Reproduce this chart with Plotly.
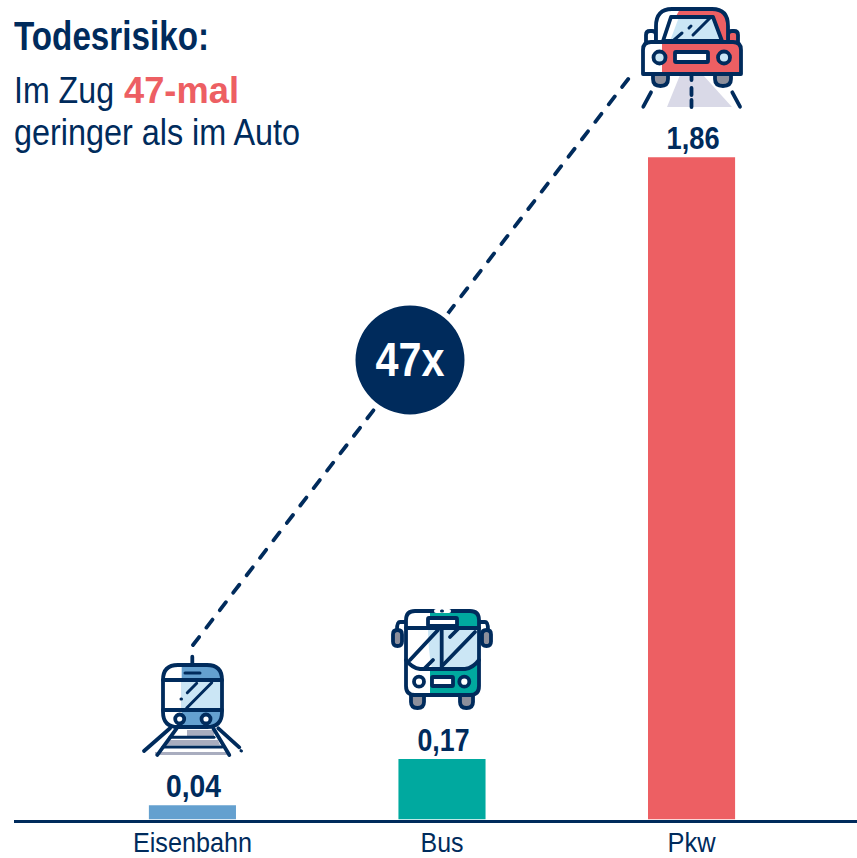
import re
import json
import plotly.graph_objects as go

categories = ["Eisenbahn", "Bus", "Pkw"]
values = [0.04, 0.17, 1.86]
bar_colors = ["#64A0CF", "#00A99F", "#ED5F63"]

NAVY = "#002B5C"
RED = "#ED5F63"
TEAL = "#00A99F"
BLUE = "#64A0CF"
PALE = "#CBE6F5"
GRAY = "#8D8F9B"
LILAC = "#D9D9E7"
FONT = "Liberation Sans, Arial, sans-serif"
W, H = 857, 858
LW = 3.8

# narrow-set text: rendered width in px for each label
text_widths = {"Todesrisiko:": 195, "Im Zug": 100, "47-mal": 115, "geringer als im Auto": 286,
               "47x": 69, "Eisenbahn": 119, "Bus": 43, "Pkw": 48,
               "0,04": 55, "0,17": 52, "1,86": 53}
value_labels = ["0,04", "0,17", "1,86"]


def fx(x):
    return x / W


def fy(y):
    return 1 - y / H


def conv(path):
    toks = re.findall(r"[MLQCZ]|-?\d+\.?\d*", path)
    out, is_x = [], True
    for t in toks:
        if t in "MLQCZ":
            out.append(t)
            is_x = True
        else:
            out.append(f"{fx(float(t)):.5f}" if is_x else f"{fy(float(t)):.5f}")
            is_x = not is_x
    res = ""
    for t in out:
        res += t if t in "MLQCZ" else t + " "
    return res


shapes = []


def path(d, fill=None, line=NAVY, w=LW):
    s = dict(type="path", xref="paper", yref="paper", path=conv(d), layer="above")
    s["fillcolor"] = fill if fill else "rgba(0,0,0,0)"
    s["line"] = dict(color=line if line else "rgba(0,0,0,0)", width=w if line else 0)
    shapes.append(s)


def rr(x0, y0, x1, y1, r):
    return (f"M {x0+r} {y0} L {x1-r} {y0} Q {x1} {y0} {x1} {y0+r} L {x1} {y1-r} Q {x1} {y1} {x1-r} {y1} "
            f"L {x0+r} {y1} Q {x0} {y1} {x0} {y1-r} L {x0} {y0+r} Q {x0} {y0} {x0+r} {y0} Z")


def circ(cx, cy, r, fill=None, line=NAVY, w=LW):
    shapes.append(dict(type="circle", xref="paper", yref="paper", layer="above",
                       x0=fx(cx - r), x1=fx(cx + r), y0=fy(cy + r), y1=fy(cy - r),
                       fillcolor=fill if fill else "rgba(0,0,0,0)",
                       line=dict(color=line if line else "rgba(0,0,0,0)", width=w if line else 0)))


# Dashed connector
shapes.append(dict(type="line", xref="paper", yref="paper", layer="above",
                   x0=fx(193), y0=fy(645), x1=fx(629), y1=fy(78),
                   line=dict(color=NAVY, width=3.8, dash="10px,12px")))
circ(410, 360, 60, fill="#FFFFFF", line=None)
circ(410, 360, 54.5, fill=NAVY, line=None)

# ---- Car ----
path("M 680 75 L 703 75 L 732 107 L 667 107 Z", fill=LILAC, line=None)
path("M 653 74 L 668 74 L 668 79 Q 668 86 660.5 86 Q 653 86 653 79 Z", fill=GRAY)
path("M 715 74 L 731 74 L 731 79 Q 731 86 723 86 Q 715 86 715 79 Z", fill=GRAY)
path(rr(646, 31, 656, 46, 4), fill="#FFFFFF")
path(rr(728, 31, 738, 46, 4), fill=RED)
path("M 656 42 L 656 26 Q 656 9 672 9 L 712 9 Q 728 9 728 26 L 728 42 Z", fill="#FFFFFF", line=None)
path("M 680 9 L 712 9 Q 728 9 728 26 L 728 42 L 662 42 Z", fill=RED, line=None)
path("M 663 41 L 671 17 L 713 17 L 722 41 Z", fill="#FFFFFF", line=None)
path("M 679 17 L 713 17 L 722 41 L 670 41 Z", fill=PALE, line=None)
path("M 656 42 L 656 26 Q 656 9 672 9 L 712 9 Q 728 9 728 26 L 728 42")
path("M 663 41 L 671 17 L 713 17 L 722 41 Z")
path("M 674 40 L 682 33", w=3)
path("M 689 28 L 691 26", w=3)
path("M 693 35 L 711 17", w=3)
path("M 643 50 Q 643 42 651 42 L 733 42 Q 741 42 741 50 L 741 74 L 643 74 Z", fill="#FFFFFF", line=None)
path("M 662 42 L 733 42 Q 741 42 741 50 L 741 74 L 662 74 Z", fill=RED, line=None)
path("M 643 50 Q 643 42 651 42 L 733 42 Q 741 42 741 50 L 741 74 L 643 74 Z")
circ(659.5, 57.5, 6, fill=PALE)
circ(724, 57.5, 6, fill=PALE)
path(rr(675, 52, 708, 62, 1), fill="#FFFFFF")
path("M 691.5 75 L 691.5 80")
path("M 691.5 88 L 691.5 95")
path("M 691.5 100 L 691.5 107")
path("M 643.3 106.7 L 651 92.3")
path("M 732.3 92.3 L 740 106.7")

# ---- Bus ----
path("M 411 695 L 424 695 L 424 702 Q 424 708 417.5 708 Q 411 708 411 702 Z", fill=GRAY)
path("M 460 695 L 473 695 L 473 702 Q 473 708 466.5 708 Q 460 708 460 702 Z", fill=GRAY)
path("M 406 622 L 400 622 Q 397 622 397 630")
path("M 479 622 L 485 622 Q 488 622 488 630")
path(rr(393, 630, 402, 646, 4.5), fill=GRAY)
path(rr(482, 630, 491, 646, 4.5), fill=GRAY)
path(rr(406, 611, 479, 695, 9), fill="#FFFFFF", line=None)
path("M 430 611 L 470 611 Q 479 611 479 620 L 479 686 Q 479 695 470 695 L 430 695 Z", fill=TEAL, line=None)
path("M 406 628 L 479 628 L 479 660 Q 473 668 465 669 L 420 669 Q 412 668 406 660 Z", fill="#FFFFFF", line=None)
path("M 428 628 L 479 628 L 479 660 Q 473 668 465 669 L 432 669 Q 428 650 428 628 Z", fill=PALE, line=None)
path(rr(406, 611, 479, 695, 9))
path("M 406 628 L 479 628")
path("M 406 660 Q 412 668 420 669 L 465 669 Q 473 668 479 660")
path("M 441.7 628 L 441.7 669")
path("M 410 660 L 438 630")
path("M 425 668 L 433 660")
path("M 443 665 L 475 632")
path("M 450 637 L 458 629")
path(rr(428, 618, 457, 626, 1), fill="#FFFFFF")
path("M 436 611 L 449 611", line="#FFFFFF", w=4)
path("M 441.5 611 L 442.5 611", w=3)
circ(419, 681.7, 5, fill="#FFFFFF")
circ(464.3, 681.7, 5, fill="#FFFFFF")
path(rr(432, 677, 453, 686, 1), fill="#FFFFFF")

# ---- Train ----
path("M 170 730 L 214 730 L 214 735 L 170 735 Z", fill="#FFFFFF", line=None)
path("M 187 730 L 214 730 L 214 736 L 187 736 Z", fill="#A9ADBF", line=None)
path("M 167 740 L 218 740 L 220 745 L 165 745 Z", fill="#A9ADBF", line=None)
path("M 155 752 L 228 752 L 228 755 L 155 755 Z", fill="#A9ADBF", line=None)
path("M 170 737.3 L 214 737.3", w=3)
path("M 163 747 L 222 747", w=3)
path("M 144 751 L 170 728.3")
path("M 157.3 755 L 176.7 728.3")
path("M 213.3 728.3 L 229.3 755")
path("M 218.3 728.3 L 239.3 747.3")
path("M 241 750.7 L 241.5 751", w=3)
path("M 192.3 656.7 L 192.3 665")
path(rr(163, 665, 222, 727, 15), fill="#FFFFFF", line=None)
path("M 181.7 665 L 207 665 Q 222 665 222 680 L 222 712 Q 222 727 207 727 L 181.7 727 Z", fill=BLUE, line=None)
path("M 181.7 680 L 222 680 L 222 710 L 181.7 710 Z", fill=PALE, line=None)
path(rr(163, 665, 222, 727, 15))
path("M 163 680 L 222 680")
path("M 163 710 L 222 710")
path("M 185 673 L 200 673", w=3)
path("M 187.3 692.7 L 196.7 683.3", w=3)
path("M 186.7 708 L 211.7 682.7", w=3)
path("M 181 699 L 181.5 699", w=3)
circ(179.7, 719, 4.5, fill="#FFFFFF")
circ(206, 719, 4.5, fill="#FFFFFF")

fig = go.Figure(go.Bar(
    x=categories, y=values, width=0.349, marker=dict(color=bar_colors, line_width=0),
    text=values, texttemplate="%{y:.2f}", textposition="outside", cliponaxis=False,
    textfont=dict(family=FONT, size=31, color=NAVY, weight="bold"), hoverinfo="skip",
))

ann = [
    dict(text="Todesrisiko:", x=11.5, y=36, size=41, color=NAVY, weight="bold"),
    dict(text="Im Zug", x=11.5, y=90, size=37, color=NAVY, weight="normal"),
    dict(text="47-mal", x=121.5, y=90, size=37, color=RED, weight="bold"),
    dict(text="geringer als im Auto", x=11.5, y=132, size=37, color=NAVY, weight="normal"),
]
annotations = [dict(text=a["text"], x=fx(a["x"]), y=fy(a["y"]), xref="paper", yref="paper",
                    xanchor="left", yanchor="middle", showarrow=False, xshift=0,
                    width=text_widths[a["text"]], align="left",
                    font=dict(family=FONT, size=a["size"], color=a["color"], weight=a["weight"]))
               for a in ann]
annotations.append(dict(text="47x", x=fx(410), y=fy(359), xref="paper", yref="paper",
                        showarrow=False,
                        font=dict(family=FONT, size=48, color="#FFFFFF", weight="bold")))

fig.update_layout(
    width=W, height=H, margin=dict(l=0, r=0, t=0, b=0), autosize=False,
    paper_bgcolor="#FFFFFF", plot_bgcolor="#FFFFFF", showlegend=False,
    separators=",.", shapes=shapes, annotations=annotations,
    xaxis=dict(domain=[14 / W, 1], type="category", range=[-0.715, 2.663], showgrid=False,
               showline=True, linecolor=NAVY, linewidth=2.5, ticks="", fixedrange=True,
               automargin=False, ticklabelstandoff=-3,
               tickfont=dict(family=FONT, size=27, color=NAVY)),
    yaxis=dict(domain=[38.5 / H, 1], range=[0, 819.5 / 356], visible=False, fixedrange=True,
               automargin=False),
)
post = """
document.body.style.margin='0';
document.querySelectorAll('.shapelayer path').forEach(function(p){p.style.strokeLinecap='round';p.style.strokeLinejoin='round';});
var tw=%s, vl=%s;
document.querySelectorAll('svg text').forEach(function(t){
  var s=t.textContent.trim(), w=tw[s];
  if(w){t.setAttribute('textLength',w);t.setAttribute('lengthAdjust','spacingAndGlyphs');}
  if(vl.indexOf(s)>=0){t.setAttribute('dy','2');t.setAttribute('dx','1.5');}
});
""" % (json.dumps(text_widths), json.dumps(value_labels))
fig.write_html("out.html", config=dict(displayModeBar=False), post_script=post)
